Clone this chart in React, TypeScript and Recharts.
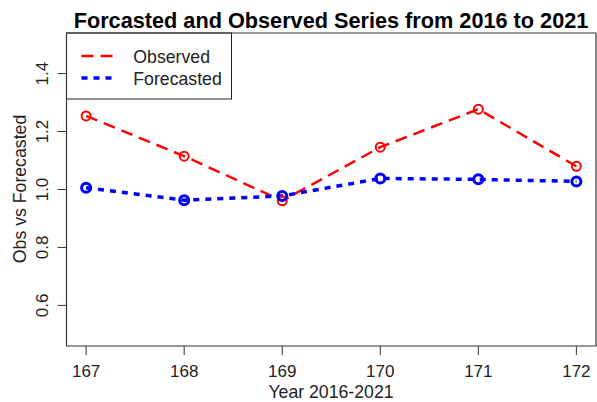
import React from "react";
import {
  LineChart,
  Line,
  XAxis,
  YAxis,
  ReferenceArea,
  Customized,
} from "recharts";

const YEARS = [167, 168, 169, 170, 171, 172];
const OBSERVED = [1.254, 1.115, 0.961, 1.146, 1.277, 1.08];
const FORECASTED = [1.006, 0.963, 0.978, 1.038, 1.035, 1.028];
const X_TICKS = [167, 168, 169, 170, 171, 172];
const Y_TICKS = [0.6, 0.8, 1.0, 1.2, 1.4];
const LEGEND_ITEMS = [
  { label: "Observed", color: "#ff0000", width: 2.5, dash: "12 7" },
  { label: "Forecasted", color: "#0000ff", width: 3.5, dash: "6 6" },
];

const FONT = "'Liberation Sans', Arial, Helvetica, sans-serif";

const data = YEARS.map((year, i) => ({
  year,
  observed: OBSERVED[i],
  forecasted: FORECASTED[i],
}));

const XTick = ({ x, y, payload }: any) => (
  <text x={x} y={y + 20} textAnchor="middle" fontSize={17} fill="#222" fontFamily={FONT}>
    {payload.value}
  </text>
);

const YTick = ({ x, y, payload }: any) => (
  <text
    x={x - 7.5}
    y={y}
    transform={`rotate(-90, ${x - 7.5}, ${y})`}
    textAnchor="middle"
    fontSize={17}
    fill="#222"
    fontFamily={FONT}
  >
    {Number(payload.value).toFixed(1)}
  </text>
);

// title, axis titles and the legend box, in the svg
const Decorations = () => (
  <g fontFamily={FONT}>
    <text x={331} y={27.5} textAnchor="middle" fontSize={21.7} fontWeight="bold" fill="#000">
      Forcasted and Observed Series from 2016 to 2021
    </text>
    <text x={331} y={397.5} textAnchor="middle" fontSize={17.7} fill="#222">
      Year 2016-2021
    </text>
    <text
      x={25.5}
      y={189}
      transform="rotate(-90, 25.5, 189)"
      textAnchor="middle"
      fontSize={17.7}
      fill="#222"
    >
      Obs vs Forecasted
    </text>
    <g transform="translate(66.5, 33)">
      <rect x={0} y={0} width={165} height={66} fill="white" stroke="#222" strokeWidth={1} />
      {LEGEND_ITEMS.map((item, i) => (
        <g key={item.label}>
          <line
            x1={15}
            x2={49}
            y1={23 + i * 22}
            y2={23 + i * 22}
            stroke={item.color}
            strokeWidth={item.width}
            strokeDasharray={item.dash}
          />
          <text x={66.8} y={29.5 + i * 22} fontSize={17.7} fill="#222">
            {item.label}
          </text>
        </g>
      ))}
    </g>
  </g>
);

export default function App() {
  return (
    <div style={{ position: "absolute", left: 0, top: 0, background: "white" }}>
      <LineChart
        width={597}
        height={402}
        data={data}
        margin={{ top: 33, right: 1, left: 0, bottom: 0 }}
      >
        <XAxis
          dataKey="year"
          type="number"
          domain={[166.8, 172.2]}
          ticks={X_TICKS}
          allowDataOverflow
          height={56}
          tickSize={9}
          tickLine={{ stroke: "#333", strokeWidth: 1 }}
          axisLine={false}
          tick={<XTick />}
        />
        <YAxis
          type="number"
          domain={[0.46, 1.54]}
          ticks={Y_TICKS}
          allowDataOverflow
          width={66.5}
          tickSize={9}
          tickLine={{ stroke: "#333", strokeWidth: 1 }}
          axisLine={false}
          tick={<YTick />}
        />
        <ReferenceArea
          x1={166.8}
          x2={172.2}
          y1={0.46}
          y2={1.54}
          fill="none"
          stroke="#333"
          strokeWidth={1.2}
          ifOverflow="extendDomain"
        />
        <Line
          dataKey="observed"
          stroke="#ff0000"
          strokeWidth={2.5}
          strokeDasharray="12 7"
          dot={{ r: 4.5, stroke: "#ff0000", strokeWidth: 2, fill: "none", strokeDasharray: "0" }}
          activeDot={false}
          isAnimationActive={false}
        />
        <Line
          dataKey="forecasted"
          stroke="#0000ff"
          strokeWidth={3.5}
          strokeDasharray="6 6"
          dot={{ r: 4.5, stroke: "#0000ff", strokeWidth: 3, fill: "none", strokeDasharray: "0" }}
          activeDot={false}
          isAnimationActive={false}
        />
        <Customized component={Decorations} />
      </LineChart>
    </div>
  );
}
